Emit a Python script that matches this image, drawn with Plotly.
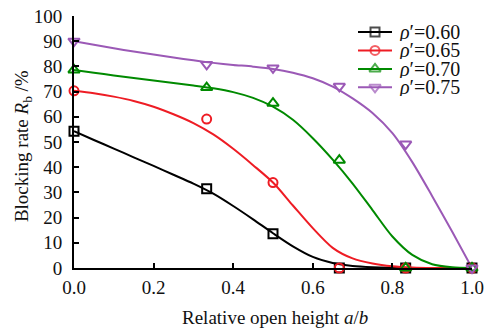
import plotly.graph_objects as go

# Relative open height a/b at which blocking rate was measured
open_height = [0, 1 / 3, 1 / 2, 2 / 3, 5 / 6, 1]

# Measured blocking rate R_b (%) for each relative density
rb_060 = [54.3, 31.4, 13.6, 0, 0, 0]
rb_065 = [70.3, 59.1, 33.9, 0, 0, 0]
rb_070 = [78.6, 71.6, 65.4, 42.8, 0, 0]
rb_075 = [90.0, 80.8, 79.4, 72.1, 49.2, 0]

# Fitted trend curves, sampled every 0.05 of a/b
fit_x = [i / 20 for i in range(21)]
fit_060 = [54.3, 50.8, 47.4, 43.9, 40.5, 37.0, 33.5, 29.5, 24.6, 19.3, 13.8,
           8.6, 4.4, 2.0, 0.8, 0.3, 0.1, 0, 0, 0, 0]
fit_065 = [70.3, 69.3, 68.0, 66.3, 64.0, 61.0, 57.5, 53.0, 47.3, 40.8, 33.9,
           24.8, 15.8, 8.0, 3.8, 1.8, 0.7, 0.2, 0, 0, 0]
fit_070 = [78.6, 77.5, 76.4, 75.4, 74.4, 73.4, 72.4, 71.3, 69.8, 67.5, 64.0,
           58.8, 51.5, 43.0, 33.5, 23.0, 12.5, 5.2, 1.5, 0.3, 0]
fit_075 = [90.0, 88.6, 87.2, 85.9, 84.7, 83.5, 82.4, 81.4, 80.6, 79.9, 79.0,
           77.5, 75.3, 72.0, 67.3, 61.5, 53.5, 42.0, 28.5, 14.5, 0]

series_names = ["0.60", "0.65", "0.70", "0.75"]
x_ticks = [0.0, 0.2, 0.4, 0.6, 0.8, 1.0]
y_ticks = list(range(0, 101, 10))

colors = ["#000000", "#ee1c24", "#008a00", "#9b59b6"]
symbols = ["square-open", "circle-open", "triangle-up-open", "triangle-down-open"]
sizes = [9, 9, 10, 10]

FONT = "Liberation Serif, Times New Roman, serif"
TEXT = "#111111"

fig = go.Figure()

measured = [rb_060, rb_065, rb_070, rb_075]
fitted = [fit_060, fit_065, fit_070, fit_075]

for fit, col in zip(fitted, colors):
    fig.add_trace(go.Scatter(
        x=fit_x, y=fit, mode="lines",
        line=dict(color=col, width=2, shape="spline", smoothing=0.8),
        cliponaxis=False, showlegend=False, hoverinfo="skip"))

for rb, col, sym, sz in zip(measured, colors, symbols, sizes):
    fig.add_trace(go.Scatter(
        x=open_height, y=rb, mode="markers",
        marker=dict(symbol=sym, size=sz, color=col, line=dict(color=col, width=2)),
        cliponaxis=False, showlegend=False))

# Key: short line with marker on an overlay axis, text as annotations
key_x = [0.7136, 0.7563, 0.799]
key_rows = [0.9367, 0.8635, 0.790, 0.717]
key_text_x = 0.8116
for name, col, sym, sz, row in zip(series_names, colors, symbols, sizes, key_rows):
    fig.add_trace(go.Scatter(
        x=key_x, y=[row] * 3, mode="lines+markers", xaxis="x2", yaxis="y2",
        line=dict(color=col, width=2),
        marker=dict(symbol=sym, size=[0, sz, 0], color=col,
                    line=dict(color=col, width=2)),
        cliponaxis=False, showlegend=False, hoverinfo="skip"))
    fig.add_annotation(
        x=key_text_x, y=row, xref="paper", yref="paper",
        xanchor="left", yanchor="middle", showarrow=False, height=18,
        text="<i>ρ</i>′=" + name,
        font=dict(family=FONT, size=20, color=TEXT))

# Axis titles
fig.add_annotation(
    x=0.505, y=-0.195, xref="paper", yref="paper",
    xanchor="center", yanchor="middle", showarrow=False,
    text="Relative open height <i>a</i>/<i>b</i>",
    font=dict(family=FONT, size=19, color=TEXT))
fig.add_annotation(
    x=-0.128, y=0.484, xref="paper", yref="paper", textangle=-90,
    xanchor="center", yanchor="middle", showarrow=False,
    text="Blocking rate <i>R</i><sub>b</sub> /%",
    font=dict(family=FONT, size=19, color=TEXT))

axis_common = dict(
    showline=True, linecolor="black", linewidth=2,
    ticks="inside", ticklen=5, tickwidth=2, tickcolor="black",
    showgrid=False, zeroline=False, automargin=False,
    tickfont=dict(family=FONT, size=19, color=TEXT),
)

fig.update_layout(
    template="none",
    width=490, height=334,
    margin=dict(l=74, r=18, t=16, b=66, pad=0),
    paper_bgcolor="white", plot_bgcolor="white",
    xaxis=dict(range=[0, 1], tickvals=x_ticks, ticktext=[f"{v:.1f}" for v in x_ticks],
               ticklabelstandoff=1, **axis_common),
    yaxis=dict(range=[0, 100], tickvals=y_ticks, ticklabelstandoff=6, **axis_common),
    xaxis2=dict(range=[0, 1], overlaying="x", visible=False),
    yaxis2=dict(range=[0, 1], overlaying="y", visible=False),
    showlegend=False,
)

fig.write_html("out.html")
